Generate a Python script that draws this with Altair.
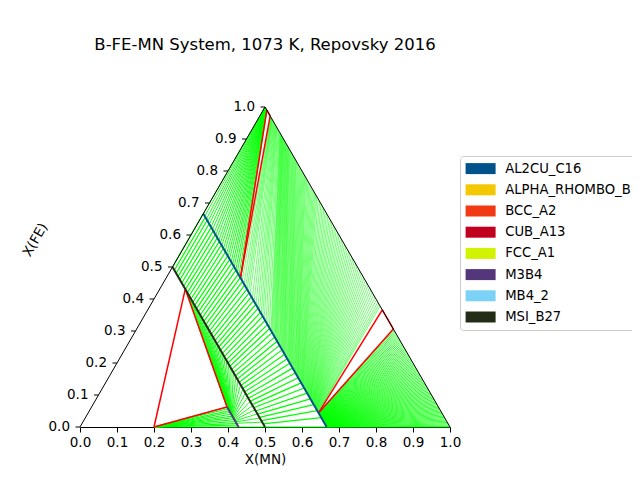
import altair as alt
import pandas as pd

# --- phases / legend ---
phases = ["AL2CU_C16", "ALPHA_RHOMBO_B", "BCC_A2", "CUB_A13", "FCC_A1", "M3B4", "MB4_2", "MSI_B27"]
phase_colors = ["#00538A", "#F4C800", "#F13A13", "#C10020", "#D2F300", "#53377A", "#7BD2F6", "#232C16"]

# boron fraction of the stoichiometric phases (X(B) is fixed along each line)
XB_M2B = 0.3333
XB_MSI = 0.5
XB_M3B4 = 0.5714
XB_MB4 = 0.8
XB_METAL = 0.0

x_ticks = [0.0, 0.1, 0.2, 0.3, 0.4, 0.5, 0.6, 0.7, 0.8, 0.9, 1.0]
fe_ticks = [0.0, 0.1, 0.2, 0.3, 0.4, 0.5, 0.6, 0.7, 0.8, 0.9, 1.0]

# --- tie lines: X(FE) at each end ---
# MB4_2 (fixed point) + M3B4
m3b4_fe_A = [0.0625, 0.057, 0.051, 0.046, 0.040, 0.034, 0.029, 0.023, 0.017, 0.011, 0.006, 0.0]

# M3B4 + MSI_B27
msi_fe_B = [0.431, 0.418, 0.405, 0.392, 0.379, 0.366, 0.353, 0.340, 0.327, 0.314, 0.301, 0.288,
            0.275, 0.262, 0.249, 0.236, 0.223, 0.210, 0.197, 0.184, 0.171, 0.158, 0.145, 0.132,
            0.119, 0.106, 0.093, 0.080, 0.067, 0.054, 0.041, 0.028, 0.015, 0.0]
m3b4_fe_B = [0.0625, 0.0616, 0.0606, 0.0596, 0.0586, 0.0576, 0.0566, 0.0555, 0.0544, 0.0534, 0.0522,
             0.0511, 0.0499, 0.0487, 0.0475, 0.0462, 0.0450, 0.0436, 0.0423, 0.0408, 0.0394, 0.0378,
             0.0362, 0.0346, 0.0328, 0.0310, 0.0290, 0.0269, 0.0246, 0.0221, 0.0193, 0.0159, 0.0117, 0.0]

# MSI_B27 + AL2CU_C16
msi_fe_C = [0.50, 0.49, 0.48, 0.47, 0.46, 0.45, 0.44, 0.43, 0.42, 0.41, 0.40, 0.39, 0.38, 0.37,
            0.36, 0.35, 0.34, 0.33, 0.32, 0.31, 0.30, 0.29, 0.28, 0.27, 0.26, 0.25, 0.24, 0.23,
            0.22, 0.21, 0.20, 0.19, 0.18, 0.17, 0.16, 0.15, 0.14, 0.13, 0.12, 0.11, 0.10, 0.09,
            0.08, 0.07, 0.06, 0.05, 0.04, 0.03, 0.02, 0.01, 0.0]
m2b_fe_C = [0.667, 0.656, 0.646, 0.635, 0.624, 0.613, 0.602, 0.591, 0.580, 0.569, 0.558, 0.547,
            0.535, 0.524, 0.513, 0.501, 0.490, 0.478, 0.467, 0.455, 0.443, 0.431, 0.419, 0.407,
            0.395, 0.383, 0.371, 0.358, 0.346, 0.333, 0.320, 0.308, 0.295, 0.281, 0.268, 0.255,
            0.241, 0.227, 0.213, 0.199, 0.184, 0.169, 0.154, 0.138, 0.122, 0.106, 0.088, 0.070,
            0.051, 0.029, 0.0]

# BCC_A2 + AL2CU_C16
bcc_fe_D = [1.000, 0.9996, 0.9992, 0.9988, 0.9983, 0.9979, 0.9975, 0.9971, 0.9967, 0.9963, 0.9958,
            0.9954, 0.9950, 0.9946, 0.9942, 0.9938, 0.9933, 0.9929, 0.9925, 0.9921, 0.9917, 0.9913,
            0.9908, 0.9904, 0.9900]
m2b_fe_D = [0.667, 0.659, 0.650, 0.642, 0.634, 0.625, 0.617, 0.608, 0.600, 0.592, 0.583, 0.575,
            0.567, 0.558, 0.550, 0.541, 0.533, 0.525, 0.516, 0.508, 0.500, 0.491, 0.483, 0.474, 0.466]

# FCC_A1 + AL2CU_C16
fcc_fe_E = [0.970, 0.968, 0.966, 0.964, 0.962, 0.960, 0.957, 0.954, 0.951, 0.948, 0.945, 0.942,
            0.939, 0.936, 0.932, 0.928, 0.924, 0.920,
            0.9175, 0.915, 0.9125, 0.910, 0.9075, 0.905, 0.9025, 0.900,
            0.897, 0.894, 0.891, 0.888, 0.885, 0.882, 0.879, 0.876, 0.873, 0.870,
            0.866, 0.862, 0.858, 0.854, 0.850, 0.846, 0.842, 0.838, 0.834, 0.830,
            0.825, 0.820, 0.815, 0.810, 0.805, 0.800, 0.795, 0.790, 0.785, 0.780,
            0.774, 0.768, 0.762, 0.756, 0.750, 0.744, 0.738, 0.732, 0.726, 0.720,
            0.7125, 0.705, 0.6975, 0.690, 0.6825, 0.675, 0.6675, 0.660, 0.6525, 0.645,
            0.6375, 0.630, 0.6225, 0.615, 0.6075, 0.600, 0.5925, 0.585, 0.5775, 0.570,
            0.5625, 0.555, 0.5475, 0.540, 0.5325, 0.525, 0.5175, 0.510, 0.5025, 0.495,
            0.4875, 0.480, 0.4725, 0.465, 0.4575, 0.450, 0.4425, 0.435, 0.4275, 0.420,
            0.4125, 0.405, 0.3975, 0.390, 0.384, 0.378]
m2b_fe_E = [0.457, 0.447, 0.438, 0.430, 0.422, 0.414, 0.402, 0.392, 0.382, 0.372, 0.363, 0.354,
            0.346, 0.338, 0.328, 0.319, 0.310, 0.301,
            0.2965, 0.292, 0.287, 0.282, 0.278, 0.274, 0.270, 0.266,
            0.261, 0.256, 0.252, 0.248, 0.244, 0.240, 0.236, 0.232, 0.2285, 0.225,
            0.221, 0.217, 0.2125, 0.208, 0.2045, 0.201, 0.1975, 0.194, 0.1905, 0.187,
            0.1835, 0.180, 0.176, 0.172, 0.169, 0.166, 0.1625, 0.159, 0.1565, 0.154,
            0.1505, 0.147, 0.144, 0.141, 0.138, 0.135, 0.1325, 0.130, 0.1275, 0.125,
            0.122, 0.119, 0.1165, 0.114, 0.1115, 0.109, 0.1065, 0.104, 0.102, 0.100,
            0.0975, 0.095, 0.093, 0.091, 0.0895, 0.088, 0.086, 0.084, 0.082, 0.080,
            0.0785, 0.077, 0.0755, 0.074, 0.0725, 0.071, 0.0695, 0.068, 0.0665, 0.065,
            0.0635, 0.062, 0.061, 0.060, 0.0585, 0.057, 0.056, 0.055, 0.0535, 0.052,
            0.051, 0.050, 0.0485, 0.047, 0.0465, 0.046]

# CUB_A13 + AL2CU_C16
cub_fe_F = [0.306, 0.302, 0.298, 0.294, 0.290, 0.286, 0.282, 0.278, 0.274, 0.270, 0.266, 0.262,
            0.258, 0.254, 0.250, 0.246, 0.242, 0.238, 0.234, 0.230, 0.226, 0.222, 0.218, 0.214,
            0.210, 0.206, 0.202, 0.198, 0.194, 0.190, 0.186, 0.182, 0.178, 0.174, 0.170, 0.166,
            0.162, 0.158, 0.154, 0.150, 0.146, 0.142, 0.138, 0.134, 0.130, 0.126, 0.122, 0.118,
            0.114, 0.110, 0.106, 0.102, 0.098, 0.094, 0.090, 0.086, 0.082, 0.078, 0.074, 0.070,
            0.066, 0.062, 0.058, 0.054, 0.050, 0.046, 0.042, 0.038, 0.034, 0.030, 0.026, 0.022,
            0.018, 0.014, 0.010, 0.006, 0.002, 0.0]
m2b_fe_F = [0.0440, 0.0434, 0.0429, 0.0423, 0.0417, 0.0411, 0.0406, 0.0400, 0.0394, 0.0388, 0.0383,
            0.0377, 0.0371, 0.0365, 0.0360, 0.0354, 0.0348, 0.0342, 0.0337, 0.0331, 0.0325, 0.0319,
            0.0313, 0.0308, 0.0302, 0.0296, 0.0290, 0.0285, 0.0279, 0.0273, 0.0267, 0.0262, 0.0256,
            0.0250, 0.0244, 0.0239, 0.0233, 0.0227, 0.0221, 0.0216, 0.0210, 0.0204, 0.0198, 0.0193,
            0.0187, 0.0181, 0.0175, 0.0170, 0.0164, 0.0158, 0.0152, 0.0147, 0.0141, 0.0135, 0.0129,
            0.0124, 0.0118, 0.0112, 0.0106, 0.0101, 0.0095, 0.0089, 0.0083, 0.0078, 0.0072, 0.0066,
            0.0060, 0.0055, 0.0049, 0.0043, 0.0037, 0.0032, 0.0026, 0.0020, 0.0014, 0.0009, 0.0003, 0.0]

# three-phase triangles: (X(B), X(FE)) of the corners
tri_1 = [(XB_MB4, 0.0), (XB_MSI, 0.431), (XB_M3B4, 0.0625)]
tri_2 = [(XB_METAL, 0.990), (XB_METAL, 0.972), (XB_M2B, 0.466)]
tri_3 = [(XB_METAL, 0.366), (XB_METAL, 0.306), (XB_M2B, 0.044)]

# single-phase lines: name, X(B), X(FE) range
phase_lines = [("AL2CU_C16", XB_M2B, 0.6667, 0.0),
               ("MSI_B27", XB_MSI, 0.5, 0.0),
               ("M3B4", XB_M3B4, 0.0625, 0.0)]


def tern(xb, fe):
    # ternary composition -> plot coordinates (apex = pure Fe)
    mn = 1 - xb - fe
    return mn + fe / 2, fe


def segments(xb_a, fe_a, xb_b, fe_b, w=1.0):
    rows = []
    if not isinstance(fe_a, list):
        fe_a = [fe_a] * len(fe_b)
    for fa, fb in zip(fe_a, fe_b):
        x, y = tern(xb_a, fa)
        x2, y2 = tern(xb_b, fb)
        rows.append({"x": x, "y": y, "x2": x2, "y2": y2, "w": w})
    return rows


# line widths differ a bit per region so the shading looks like the original
tie_rows = []
tie_rows += segments(XB_MB4, 0.0, XB_M3B4, m3b4_fe_A, 1.0)
tie_rows += segments(XB_M3B4, m3b4_fe_B, XB_MSI, msi_fe_B, 0.9)
tie_rows += segments(XB_MSI, msi_fe_C, XB_M2B, m2b_fe_C, 1.2)
tie_rows += segments(XB_METAL, bcc_fe_D, XB_M2B, m2b_fe_D, 0.9)
tie_rows += segments(XB_METAL, fcc_fe_E, XB_M2B, m2b_fe_E, 0.55)
tie_rows += segments(XB_METAL, cub_fe_F, XB_M2B, m2b_fe_F, 0.8)
tie_df = pd.DataFrame(tie_rows)

tri_rows = []
for tri in [tri_1, tri_2, tri_3]:
    for i in range(3):
        a, b = tri[i], tri[(i + 1) % 3]
        tri_rows += segments(a[0], [a[1]], b[0], [b[1]])
tri_df = pd.DataFrame(tri_rows)

line_rows = []
for name, xb, f0, f1 in phase_lines:
    r = segments(xb, [f0], xb, [f1])[0]
    r["color"] = phase_colors[phases.index(name)]
    line_rows.append(r)
line_df = pd.DataFrame(line_rows)

# triangle outline: B -> Fe -> Mn
corners = [(1.0, 0.0), (0.0, 1.0), (0.0, 0.0)]
edge_rows = segments(corners[0][0], [corners[0][1]], corners[1][0], [corners[1][1]])
edge_rows += segments(corners[1][0], [corners[1][1]], corners[2][0], [corners[2][1]])
edge_df = pd.DataFrame(edge_rows)

ytick_df = pd.DataFrame({"fe": fe_ticks})
ytick_df["x"] = [tern(1 - f, f)[0] for f in fe_ticks]

FONT = "DejaVu Sans"
xs = alt.Scale(domain=[0, 1], nice=False, zero=False)
ys = alt.Scale(domain=[0, 1], nice=False, zero=False)
x_axis = alt.Axis(values=x_ticks, format=".1f", title="X(MN)", grid=False,
                  labelFont=FONT, labelFontSize=13.5, labelColor="black", labelPadding=3,
                  labelFlush=False, tickColor="black", tickSize=5, domainColor="black",
                  titleFont=FONT, titleFontSize=13.5, titleFontWeight="normal",
                  titleColor="black", titlePadding=4)
X = alt.X("x:Q", scale=xs, axis=x_axis)
Y = alt.Y("y:Q", scale=ys, axis=None)

ties = alt.Chart(tie_df).mark_rule(color="#00ff00").encode(
    x=X, y=Y, x2="x2:Q", y2="y2:Q", strokeWidth=alt.StrokeWidth("w:Q", scale=None))

triangles = alt.Chart(tri_df).mark_rule(color="#ff0000", strokeWidth=1.5).encode(
    x=X, y=Y, x2="x2:Q", y2="y2:Q")

plines = alt.Chart(line_df).mark_rule(strokeWidth=2).encode(
    x=X, y=Y, x2="x2:Q", y2="y2:Q", color=alt.Color("color:N", scale=None))

edges = alt.Chart(edge_df).mark_rule(color="black", strokeWidth=1).encode(
    x=X, y=Y, x2="x2:Q", y2="y2:Q")

yticks = alt.Chart(ytick_df).mark_rule(color="black", strokeWidth=1, xOffset=-4.5, x2Offset=0).encode(
    x=X, x2="x:Q", y=alt.Y("fe:Q", scale=ys, axis=None))

ylabels = alt.Chart(ytick_df).mark_text(align="right", baseline="middle", dx=-10,
                                        font=FONT, fontSize=13.5, color="black").encode(
    x=X, y=alt.Y("fe:Q", scale=ys, axis=None), text=alt.Text("fe:Q", format=".1f"))

ytitle = alt.Chart(pd.DataFrame({"t": ["X(FE)"]})).mark_text(
    angle=300, font=FONT, fontSize=13.5, color="black", align="center", baseline="middle").encode(
    x=alt.value(-44.5), y=alt.value(133), text="t:N")

# legend swatches: 13px layout cell, drawn as a 30x11 rectangle
legend_layer = alt.Chart(pd.DataFrame({"phase": phases})).mark_square(size=0, opacity=1).encode(
    x=alt.value(0), y=alt.value(0),
    color=alt.Color("phase:N", scale=alt.Scale(domain=phases, range=phase_colors),
                    legend=alt.Legend(title=None, orient="none", legendX=380, legendY=49,
                                      symbolType="M-2.308,-0.846H2.308V0.846H-2.308Z",
                                      symbolSize=169, symbolOffset=8,
                                      symbolOpacity=1, symbolStrokeWidth=0,
                                      labelFont=FONT, labelFontSize=13.2, labelColor="black",
                                      labelOffset=18, labelLimit=300, rowPadding=7.2,
                                      padding=6, fillColor="white", strokeColor="#cccccc",
                                      cornerRadius=3)))

chart = alt.layer(ties, triangles, plines, edges, yticks, ylabels, ytitle, legend_layer).properties(
    width=370, height=320,
    title=alt.TitleParams("B-FE-MN System, 1073 K, Repovsky 2016", font=FONT, fontSize=16.5,
                          fontWeight="normal", color="black", anchor="middle", frame="group",
                          offset=47),
    autosize=alt.AutoSizeParams(type="none"),
    padding={"left": 72, "top": 99, "right": 182, "bottom": 42},
).configure_view(stroke=None)

chart.save("out.html", embed_options={"renderer": "svg", "actions": False})
